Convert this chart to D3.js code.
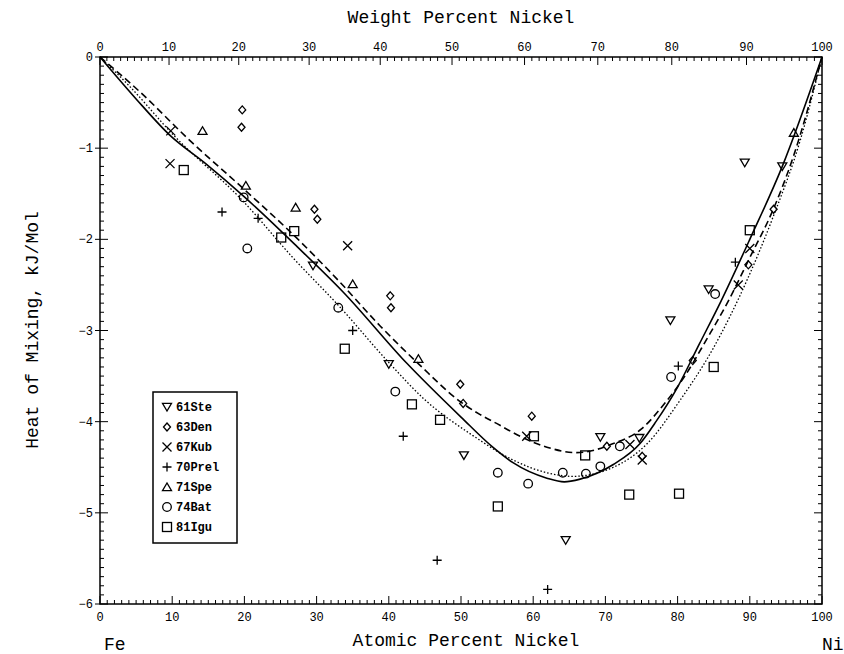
<!DOCTYPE html>
<html>
<head>
<meta charset="utf-8">
<script src="https://cdn.jsdelivr.net/npm/d3@7"></script>
<style>
  body { margin: 0; background: #fff; }
  text { font-family: "Liberation Mono", "Courier New", monospace; fill: #000; }
</style>
</head>
<body>
<div id="chart"></div>
<script>
// Fe-Ni heat of mixing, atomic percent Ni vs kJ/mol
const atomicTicks = [0, 10, 20, 30, 40, 50, 60, 70, 80, 90, 100];
const weightTicks = [0, 10, 20, 30, 40, 50, 60, 70, 80, 90, 100];
const heatTicks = [0, -1, -2, -3, -4, -5, -6];

// three assessed curves
const solidCurve = [[0, 0], [5, -0.46], [9.7, -0.86], [14.8, -1.18], [19.8, -1.52], [27.3, -2.08],
  [33.7, -2.58], [42.5, -3.36], [50, -3.95], [54.4, -4.28], [57.2, -4.45], [61.9, -4.62], [64.3, -4.66],
  [66.5, -4.63], [71.1, -4.47], [74.8, -4.24], [77, -4.0], [80, -3.62], [83, -3.15], [86, -2.68],
  [90, -2.0], [94.5, -1.2], [100, 0]];
const dashedCurve = [[0, 0], [5.5, -0.38], [12.5, -0.92], [19.8, -1.44], [27.3, -1.99], [33, -2.45], [38.8, -2.95],
  [44.3, -3.38], [49.9, -3.78], [52.6, -3.92], [55.4, -4.04], [57.2, -4.12], [61.9, -4.28], [66, -4.34],
  [71.1, -4.24], [75, -4.08], [78, -3.82], [81, -3.5], [84, -3.1], [87, -2.68], [90, -2.2], [93.2, -1.68],
  [96, -1.1], [100, 0]];
const dottedCurve = [[0, 0], [4.2, -0.33], [10.1, -0.85], [19.8, -1.58], [26.7, -2.2], [33.2, -2.74], [40.1, -3.36],
  [45, -3.76], [51.6, -4.15], [57.2, -4.42], [61.9, -4.56], [65.5, -4.6], [71.1, -4.5],
  [75.8, -4.24], [80.3, -3.77], [84.9, -3.2], [89.6, -2.45], [93.2, -1.76], [97, -0.91], [100, 0]];

// experimental sources
const sources = ['61Ste', '63Den', '67Kub', '70Prel', '71Spe', '74Bat', '81Igu'];
const symbols = ['tridown', 'diamond', 'cross', 'plus', 'triup', 'circle', 'square'];

const ste61 = [[29.5, -2.29], [40, -3.37], [50.4, -4.37], [64.5, -5.3], [69.3, -4.17], [74.7, -4.18],
  [79, -2.89], [84.3, -2.55], [89.3, -1.16], [94.5, -1.2]];
const den63 = [[19.7, -0.58], [19.6, -0.77], [29.7, -1.67], [30.1, -1.78], [40.2, -2.62], [40.3, -2.75],
  [49.9, -3.59], [50.3, -3.8], [59.8, -3.94], [70.2, -4.27], [75.1, -4.38], [82.1, -3.33], [89.8, -2.28],
  [93.3, -1.67]];
const kub67 = [[9.8, -0.81], [9.7, -1.17], [34.3, -2.07], [59.1, -4.16], [73.4, -4.25], [75.1, -4.42],
  [88.4, -2.5], [90, -2.1]];
const prel70 = [[16.9, -1.7], [21.9, -1.77], [35, -3.0], [42, -4.16], [46.7, -5.52], [62, -5.84],
  [80.1, -3.39], [88, -2.25]];
const spe71 = [[14.2, -0.81], [20.2, -1.41], [27.1, -1.65], [35, -2.49], [44.1, -3.31], [96.1, -0.83]];
const bat74 = [[19.9, -1.54], [20.4, -2.1], [33, -2.75], [40.9, -3.67], [55.1, -4.56], [59.3, -4.68],
  [64.1, -4.56], [67.3, -4.57], [69.3, -4.49], [72, -4.27], [79.1, -3.51], [85.2, -2.6]];
const igu81 = [[11.6, -1.24], [25.1, -1.98], [26.9, -1.91], [33.9, -3.2], [43.2, -3.81], [47.1, -3.98],
  [55.1, -4.93], [60.1, -4.16], [67.2, -4.37], [73.3, -4.8], [80.2, -4.79], [85, -3.4], [90, -1.9]];
const sourceData = [ste61, den63, kub67, prel70, spe71, bat74, igu81];

const width = 844, height = 654;
const margin = { top: 57, right: 22, bottom: 50, left: 100 };

const svg = d3.select('#chart').append('svg')
  .attr('width', width)
  .attr('height', height);

const x = d3.scaleLinear().domain([0, 100]).range([margin.left, width - margin.right]);
const y = d3.scaleLinear().domain([0, -6]).range([margin.top, height - margin.bottom]);

// weight % Ni -> atomic % Ni, for the top axis
const mFe = 55.845, mNi = 58.693;
function wtToAt(w) {
  const ni = w / mNi, fe = (100 - w) / mFe;
  return 100 * ni / (ni + fe);
}

// frame
svg.append('rect')
  .attr('x', x(0)).attr('y', y(0))
  .attr('width', x(100) - x(0)).attr('height', y(-6) - y(0))
  .attr('fill', 'none').attr('stroke', '#000').attr('stroke-width', 1.5);

const tickG = svg.append('g').attr('stroke', '#000').attr('stroke-width', 1);

// bottom: atomic percent
d3.range(0, 101, 1).forEach(v => {
  const len = v % 10 === 0 ? 8 : 4;
  tickG.append('line').attr('x1', x(v)).attr('x2', x(v)).attr('y1', y(-6)).attr('y2', y(-6) - len);
});
// top: weight percent
d3.range(0, 101, 1).forEach(w => {
  const len = w % 10 === 0 ? 8 : 4;
  const px = x(wtToAt(w));
  tickG.append('line').attr('x1', px).attr('x2', px).attr('y1', y(0)).attr('y2', y(0) + len);
});
// left and right
d3.range(0, 61, 1).forEach(i => {
  const v = -i / 10;
  const major = i % 10 === 0;
  const len = major ? 8 : 4;
  tickG.append('line').attr('x1', x(0) - (major ? 5 : 0)).attr('x2', x(0) + len).attr('y1', y(v)).attr('y2', y(v));
  tickG.append('line').attr('x1', x(100)).attr('x2', x(100) - len).attr('y1', y(v)).attr('y2', y(v));
});

// tick labels
svg.append('g').selectAll('text').data(atomicTicks).enter().append('text')
  .attr('x', d => x(d)).attr('y', y(-6) + 17)
  .attr('text-anchor', 'middle').attr('font-size', 12)
  .text(d => d);
svg.append('g').selectAll('text').data(weightTicks).enter().append('text')
  .attr('x', d => x(wtToAt(d))).attr('y', y(0) - 6)
  .attr('text-anchor', 'middle').attr('font-size', 12)
  .text(d => d);
svg.append('g').selectAll('text').data(heatTicks).enter().append('text')
  .attr('x', x(0) - 7).attr('y', d => y(d) + 4)
  .attr('text-anchor', 'end').attr('font-size', 12)
  .text(d => d === 0 ? '0' : '\u2212' + Math.abs(d));

// axis titles
svg.append('text').attr('x', 461).attr('y', 23).attr('text-anchor', 'middle')
  .attr('font-size', 18).text('Weight Percent Nickel');
svg.append('text').attr('x', 466).attr('y', 646).attr('text-anchor', 'middle')
  .attr('font-size', 18).text('Atomic Percent Nickel');
svg.append('text').attr('x', 104).attr('y', 650).attr('font-size', 18).text('Fe');
svg.append('text').attr('x', 822).attr('y', 650).attr('font-size', 18).text('Ni');
svg.append('text')
  .attr('transform', 'translate(38,' + 330 + ') rotate(-90)')
  .attr('text-anchor', 'middle').attr('font-size', 18)
  .text('Heat of Mixing, kJ/Mol');

// curves
const line = d3.line().x(d => x(d[0])).y(d => y(d[1])).curve(d3.curveMonotoneX);
const curveG = svg.append('g').attr('fill', 'none').attr('stroke', '#000');
curveG.append('path').datum(solidCurve).attr('d', line).attr('stroke-width', 1.6);
curveG.append('path').datum(dashedCurve).attr('d', line).attr('stroke-width', 1.6).attr('stroke-dasharray', '7,4');
curveG.append('path').datum(dottedCurve).attr('d', line).attr('stroke-width', 1.3).attr('stroke-dasharray', '1.5,2');

// markers
function drawSymbol(g, kind, cx, cy) {
  const s = 4.5;
  const st = { fill: 'none', stroke: '#000', 'stroke-width': 1.3 };
  let el;
  if (kind === 'tridown') el = g.append('path').attr('d', `M${cx - s},${cy - s * 0.8}L${cx + s},${cy - s * 0.8}L${cx},${cy + s * 0.9}Z`);
  else if (kind === 'triup') el = g.append('path').attr('d', `M${cx - s},${cy + s * 0.8}L${cx + s},${cy + s * 0.8}L${cx},${cy - s * 0.9}Z`);
  else if (kind === 'diamond') el = g.append('path').attr('d', `M${cx},${cy - 4}L${cx + 3.5},${cy}L${cx},${cy + 4}L${cx - 3.5},${cy}Z`);
  else if (kind === 'cross') el = g.append('path').attr('d', `M${cx - s},${cy - s}L${cx + s},${cy + s}M${cx - s},${cy + s}L${cx + s},${cy - s}`);
  else if (kind === 'plus') el = g.append('path').attr('d', `M${cx - s},${cy}L${cx + s},${cy}M${cx},${cy - s}L${cx},${cy + s}`);
  else if (kind === 'circle') el = g.append('circle').attr('cx', cx).attr('cy', cy).attr('r', 4.3);
  else el = g.append('rect').attr('x', cx - 4.5).attr('y', cy - 4.5).attr('width', 9).attr('height', 9);
  Object.entries(st).forEach(([k, v]) => el.attr(k, v));
}

const markG = svg.append('g');
sourceData.forEach((pts, i) => {
  pts.forEach(p => drawSymbol(markG, symbols[i], x(p[0]), y(p[1])));
});

// legend
const legend = svg.append('g');
legend.append('rect').attr('x', 153).attr('y', 392).attr('width', 84).attr('height', 151)
  .attr('fill', '#fff').attr('stroke', '#000').attr('stroke-width', 1.5);
sources.forEach((name, i) => {
  const ly = 407 + i * 20;
  drawSymbol(legend, symbols[i], 167, ly);
  legend.append('text').attr('x', 176).attr('y', ly + 4)
    .attr('font-size', 12).attr('font-weight', 'bold').text(name);
});
</script>
</body>
</html>
